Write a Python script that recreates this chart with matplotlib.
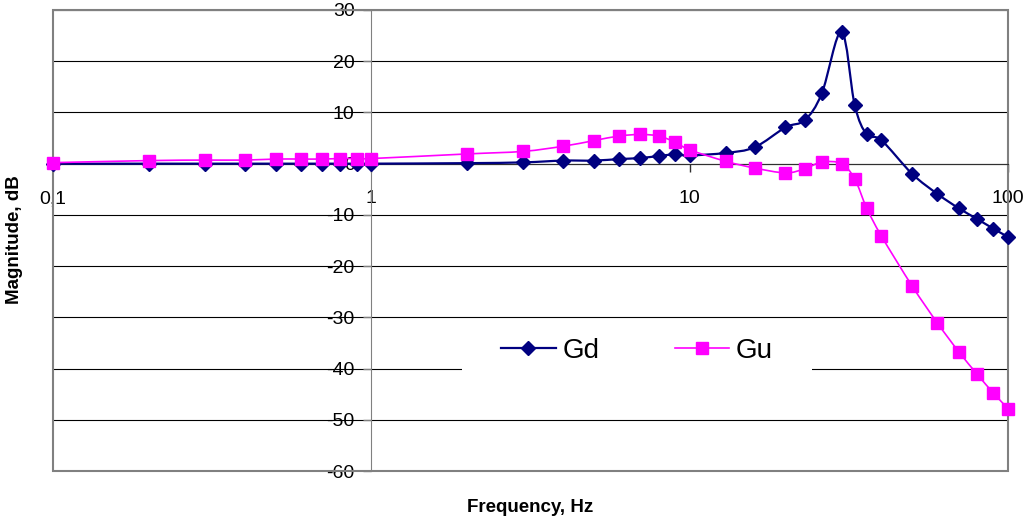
import numpy as np
import matplotlib
matplotlib.use("Agg")
import matplotlib.pyplot as plt
from matplotlib.path import Path
from matplotlib.patches import PathPatch, Rectangle
from matplotlib.lines import Line2D

# ======== data ======== #
freq = [0.1, 0.2, 0.3, 0.4, 0.5, 0.6, 0.7, 0.8, 0.9, 1,
        2, 3, 4, 5, 6, 7, 8, 9, 10,
        13, 16, 20, 23, 26, 30, 33, 36, 40, 50, 60, 70, 80, 90, 100]
gd = [0.0, 0.0, 0.0, 0.0, 0.0, 0.0, 0.0, 0.0, 0.0, 0.0,
      0.1, 0.25, 0.6, 0.6, 0.9, 1.1, 1.5, 1.8, 1.6,
      2.1, 3.2, 7.1, 8.5, 13.7, 25.8, 11.4, 5.7, 4.6, -2.0, -5.9, -8.7, -10.8, -12.7, -14.3]
gu = [0.2, 0.6, 0.7, 0.7, 0.9, 0.9, 0.9, 1.0, 1.0, 1.0,
      1.9, 2.4, 3.4, 4.5, 5.4, 5.7, 5.4, 4.2, 2.7,
      0.45, -0.85, -1.8, -1.0, 0.3, 0.0, -3.0, -8.7, -14.1, -23.9, -31.1, -36.7, -41.1, -44.8, -47.8]

x_ticks = [0.1, 1, 10, 100]
x_tick_labels = ["0,1", "1", "10", "100"]
y_ticks = [-60, -50, -40, -30, -20, -10, 0, 10, 20, 30]
y_tick_labels = ["-60", "-50", "-40", "-30", "-20", "-10", "0", "10", "20", "30"]

NAVY = "#000080"
MAGENTA = "#FF00FF"


def smooth_path(xs, ys):
    # Excel-like smoothed line: Catmull-Rom bezier in (log x, y) space
    pts = np.column_stack([np.log10(xs), np.asarray(ys, dtype=float)])
    n = len(pts)
    verts = [pts[0]]
    codes = [Path.MOVETO]
    for i in range(n - 1):
        p0 = pts[max(i - 1, 0)]
        p1 = pts[i]
        p2 = pts[i + 1]
        p3 = pts[min(i + 2, n - 1)]
        verts += [p1 + (p2 - p0) / 6, p2 - (p3 - p1) / 6, p2]
        codes += [Path.CURVE4] * 3
    verts = np.array(verts)
    verts[:, 0] = 10 ** verts[:, 0]
    return Path(verts, codes)


def main():
    plt.rcParams["font.family"] = ["Liberation Sans", "DejaVu Sans"]
    plt.rcParams["axes.unicode_minus"] = False

    fig = plt.figure(figsize=(10.25, 5.19), dpi=100)
    ax = fig.add_axes([53 / 1025, 1 - 471 / 519, 955 / 1025, 461 / 519])

    ax.set_xscale("log")
    ax.set_xlim(0.1, 100)
    ax.set_ylim(-60, 30)

    # lines
    ax.add_patch(PathPatch(smooth_path(freq, gd), facecolor="none", edgecolor=NAVY,
                           lw=1.6, transform=ax.transData, zorder=2.0))
    ax.plot(freq, gd, ls="none", marker="D", ms=7.5, color=NAVY, clip_on=False, zorder=2.1)
    ax.add_patch(PathPatch(smooth_path(freq, gu), facecolor="none", edgecolor=MAGENTA,
                           lw=1.2, transform=ax.transData, zorder=2.2))
    ax.plot(freq, gu, ls="none", marker="s", ms=8.5, color=MAGENTA, clip_on=False, zorder=2.3)

    # axes crossing at x=1 and y=0
    ax.spines["left"].set_position(("data", 1))
    ax.spines["bottom"].set_position(("data", 0))
    ax.spines["top"].set_visible(False)
    ax.spines["right"].set_visible(False)
    ax.spines["left"].set_color("#808080")
    ax.spines["bottom"].set_color("#303030")
    ax.spines["left"].set_zorder(1.9)
    ax.spines["bottom"].set_zorder(1.9)

    ax.set_xticks(x_ticks)
    ax.set_xticklabels(x_tick_labels)
    ax.xaxis.set_minor_locator(matplotlib.ticker.NullLocator())
    ax.set_yticks(y_ticks)
    ax.set_yticklabels(y_tick_labels)
    ax.tick_params(axis="x", direction="out", length=6, width=1, color="#303030",
                   pad=13, labelsize=14)
    ax.tick_params(axis="y", direction="out", length=6, width=1, color="#808080",
                   pad=6, labelsize=14)

    ax.yaxis.grid(True, color="black", lw=0.8)
    ax.set_axisbelow(True)

    # plot area frame
    ax.add_patch(Rectangle((0, 0), 1, 1, transform=ax.transAxes, fill=False,
                           edgecolor="#808080", lw=1.5, zorder=1.9, clip_on=False))

    # legend background covering the gridline
    ax.add_patch(Rectangle((409 / 955, (471 - 378) / 461), 350 / 955, 43 / 461,
                           transform=ax.transAxes, facecolor="white",
                           edgecolor="none", zorder=1.95))
    handles = [
        Line2D([], [], color=NAVY, lw=1.6, marker="D", ms=7),
        Line2D([], [], color=MAGENTA, lw=1.2, marker="s", ms=8.5),
    ]
    leg = fig.legend(handles, ["Gd", "Gu"], loc="center", ncol=2,
                     bbox_to_anchor=(637 / 1025, 1 - 351 / 519), frameon=False,
                     fontsize=20, handlelength=1.95, handletextpad=0.25,
                     columnspacing=2.7, borderpad=0.2)
    leg.set_zorder(5)

    fig.text(530.5 / 1025, 1 - 507 / 519, "Frequency, Hz", ha="center", va="center",
             fontsize=13.5, fontweight="bold")
    fig.text(15 / 1025, 1 - 240 / 519, "Magnitude, dB", ha="center", va="center",
             rotation=90, fontsize=13.5, fontweight="bold")

    fig.savefig("out.png", dpi=100)


if __name__ == "__main__":
    main()
